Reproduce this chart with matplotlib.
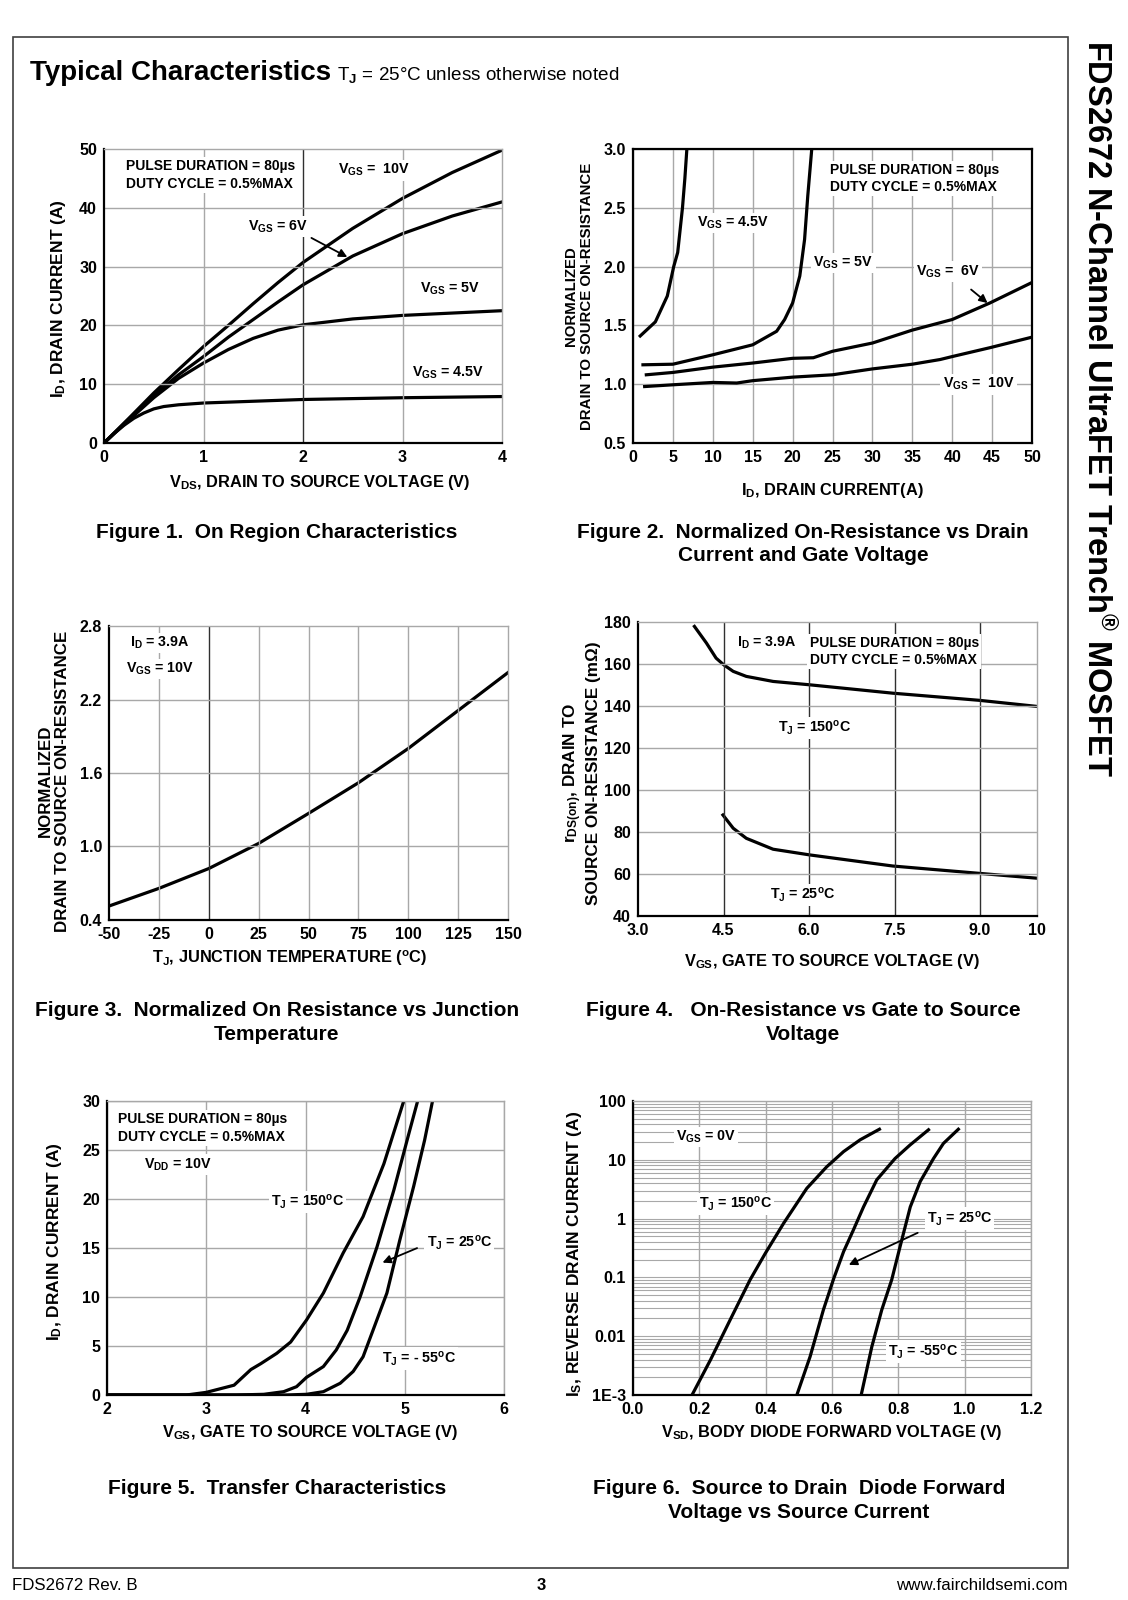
import matplotlib
matplotlib.use("Agg")
import matplotlib.pyplot as plt
from matplotlib.patches import Rectangle
from matplotlib.ticker import LogLocator, NullFormatter
import numpy as np

plt.rcParams['font.family'] = ['Liberation Sans', 'DejaVu Sans']
plt.rcParams['font.weight'] = 'bold'
plt.rcParams['mathtext.fontset'] = 'custom'
plt.rcParams['mathtext.rm'] = 'Liberation Sans'
plt.rcParams['mathtext.it'] = 'Liberation Sans:bold'
plt.rcParams['mathtext.bf'] = 'Liberation Sans:bold'

W, H = 1128, 1600

# ---- Figure 1: on region characteristics
f1_vds = [0, 0.25, 0.5, 0.75, 1.0, 1.25, 1.5, 1.75, 2.0, 2.5, 3.0, 3.5, 4.0]
f1_id_10v = [0, 4.2, 8.5, 12.5, 16.4, 20.0, 23.7, 27.3, 30.7, 36.5, 41.6, 46.0, 49.8]
f1_id_6v = [0, 4.1, 8.1, 11.6, 14.7, 18.0, 21.0, 24.0, 26.9, 31.8, 35.6, 38.6, 41.0]
f1_id_5v = [0, 3.9, 7.7, 11.0, 13.6, 15.9, 17.8, 19.2, 20.1, 21.1, 21.7, 22.1, 22.5]
f1_vds_45 = [0, 0.1, 0.2, 0.3, 0.4, 0.5, 0.6, 0.75, 1.0, 1.5, 2.0, 3.0, 4.0]
f1_id_45v = [0, 1.6, 3.0, 4.2, 5.1, 5.8, 6.2, 6.5, 6.8, 7.1, 7.4, 7.7, 7.9]

# ---- Figure 2: normalized on-resistance vs drain current
f2_id_45 = [0.9, 2.8, 4.3, 5.1, 5.6, 6.2, 6.5, 6.75]
f2_r_45 = [1.41, 1.53, 1.75, 2.0, 2.12, 2.5, 2.75, 3.0]
f2_id_5 = [1.25, 5.0, 10, 15, 18, 19, 20, 20.9, 21.5, 21.9, 22.4]
f2_r_5 = [1.165, 1.17, 1.25, 1.335, 1.45, 1.55, 1.69, 1.92, 2.23, 2.6, 3.0]
f2_id_6 = [1.67, 5, 10, 15, 20, 22.6, 25, 30, 35, 40, 44.7, 50]
f2_r_6 = [1.08, 1.10, 1.145, 1.18, 1.22, 1.225, 1.28, 1.35, 1.46, 1.55, 1.69, 1.865]
f2_id_10 = [1.46, 5, 10, 13, 15, 20, 25, 30, 35, 38.5, 40, 44.7, 50]
f2_r_10 = [0.98, 0.995, 1.015, 1.01, 1.03, 1.06, 1.08, 1.13, 1.17, 1.21, 1.235, 1.31, 1.40]

# ---- Figure 3: normalized on-resistance vs junction temperature
f3_tj = [-50, -25, 0, 25, 50, 75, 100, 125, 150]
f3_r = [0.514, 0.658, 0.82, 1.025, 1.27, 1.52, 1.80, 2.11, 2.42]

# ---- Figure 4: on-resistance vs gate voltage
f4_vgs_150 = [3.99, 4.2, 4.37, 4.5, 4.67, 4.9, 5.37, 6.01, 7.47, 8.99, 10.0]
f4_r_150 = [177.9, 170.0, 162.8, 159.7, 156.5, 154.1, 151.7, 150.1, 146.1, 142.7, 139.8]
f4_vgs_25 = [4.49, 4.67, 4.9, 5.37, 6.01, 7.47, 8.99, 10.0]
f4_r_25 = [88.1, 81.8, 77.0, 71.8, 69.1, 63.8, 60.3, 58.0]

# ---- Figure 5: transfer characteristics
f5_vgs_150 = [2.0, 2.8, 3.0, 3.28, 3.45, 3.55, 3.71, 3.85, 4.01, 4.18, 4.38, 4.58, 4.79, 4.99]
f5_id_150 = [0, 0, 0.27, 1.0, 2.6, 3.2, 4.25, 5.4, 7.65, 10.4, 14.5, 18.2, 23.6, 30]
f5_vgs_25 = [2.0, 3.3, 3.58, 3.78, 3.91, 4.01, 4.18, 4.31, 4.42, 4.55, 4.72, 4.89, 5.05, 5.13]
f5_id_25 = [0, 0, 0.07, 0.34, 0.85, 1.8, 2.9, 4.6, 6.6, 10.0, 15.1, 20.9, 27.0, 30]
f5_vgs_m55 = [2.0, 3.8, 4.01, 4.18, 4.35, 4.48, 4.58, 4.68, 4.82, 4.95, 5.09, 5.2, 5.28]
f5_id_m55 = [0, 0, 0.07, 0.34, 1.2, 2.4, 3.9, 6.6, 10.4, 15.8, 21.3, 26.0, 30]

# ---- Figure 6: body diode forward voltage
f6_vsd_150 = [0.178, 0.233, 0.293, 0.353, 0.399, 0.454, 0.524, 0.584, 0.635, 0.685, 0.743]
f6_is_150 = [1e-3, 3.9e-3, 0.019, 0.091, 0.257, 0.83, 3.27, 7.6, 13.8, 21.9, 33.1]
f6_vsd_25 = [0.494, 0.534, 0.574, 0.605, 0.635, 0.665, 0.695, 0.735, 0.79, 0.835, 0.891]
f6_is_25 = [1e-3, 4.5e-3, 0.028, 0.095, 0.275, 0.65, 1.58, 4.57, 10.5, 17.8, 32.4]
f6_vsd_m55 = [0.688, 0.72, 0.75, 0.78, 0.805, 0.836, 0.866, 0.906, 0.936, 0.981]
f6_is_m55 = [1e-3, 6.6e-3, 0.028, 0.091, 0.33, 1.58, 4.27, 10.5, 19.0, 33.1]

LW = 2.3
GRID = '#a8a8a8'
DARK = '#303030'
TICK = 11.5
XLAB = 11.8
YLAB = 12.5
NOTE = 10.3
CAP = 15

fig = plt.figure(figsize=(W / 100, H / 100), dpi=100)


def px(x, y):
    return x / W, 1 - y / H


def make_ax(l, t, r, b):
    ax = fig.add_axes([l / W, 1 - b / H, (r - l) / W, (b - t) / H])
    ax.tick_params(length=0, labelsize=TICK, pad=5)
    ax.set_axisbelow(True)
    return ax


def frame(ax, dark_lb=True, all_black=False):
    for side in ['left', 'bottom', 'top', 'right']:
        sp = ax.spines[side]
        if all_black or (dark_lb and side in ('left', 'bottom')):
            sp.set_color('black')
            sp.set_linewidth(1.6)
        else:
            sp.set_color(GRID)
            sp.set_linewidth(1.0)


def label(ax, x, y, s, size=NOTE, ha='left'):
    ax.text(x, y, s, fontsize=size, fontweight='bold', ha=ha, va='center',
            bbox=dict(facecolor='white', edgecolor='none', pad=1.5), zorder=5)


def pulse(ax, x, y):
    ax.text(x, y, 'PULSE DURATION = 80\u00b5s\nDUTY CYCLE = 0.5%MAX', fontsize=10,
            fontweight='bold', va='center', linespacing=1.3,
            bbox=dict(facecolor='white', edgecolor='none', pad=1.5), zorder=5)


def figtext(x, y, s, size=XLAB, rot=0, ha='center', weight='bold', va='center'):
    fig.text(*px(x, y), s, fontsize=size, rotation=rot, ha=ha, va=va, fontweight=weight)


def caption(x, y, lines):
    for i, s in enumerate(lines):
        figtext(x, y + i * 23.5, s, size=CAP)


def arrow(ax, xy_from, xy_to):
    ax.annotate('', xy=xy_to, xytext=xy_from,
                arrowprops=dict(arrowstyle='-|>', color='black', lw=1.3,
                                mutation_scale=12), zorder=6)


VGS = r'V$_{\mathbf{GS}}$'
TJ = r'T$_{\mathbf{J}}$'
DEG = r'$^{\mathbf{o}}$C'

# ---------------- Figure 1
ax = make_ax(104, 149, 502, 443)
ax.plot(f1_vds, f1_id_10v, 'k-', lw=LW)
ax.plot(f1_vds, f1_id_6v, 'k-', lw=LW)
ax.plot(f1_vds, f1_id_5v, 'k-', lw=LW)
ax.plot(f1_vds_45, f1_id_45v, 'k-', lw=LW)
ax.set_xlim(0, 4)
ax.set_ylim(0, 50)
ax.set_xticks([0, 1, 2, 3, 4])
ax.set_yticks([0, 10, 20, 30, 40, 50])
for v in [1, 3]:
    ax.axvline(v, color=GRID, lw=1)
ax.axvline(2, color=DARK, lw=1)
for v in [10, 20, 30, 40]:
    ax.axhline(v, color=GRID, lw=1)
frame(ax)
pulse(ax, 0.22, 45.6)
label(ax, 2.35, 46.4, VGS + ' =  10V')
label(ax, 1.45, 36.8, VGS + ' = 6V')
arrow(ax, (2.06, 35.1), (2.47, 31.4))
label(ax, 3.18, 26.3, VGS + ' = 5V')
label(ax, 3.1, 11.9, VGS + ' = 4.5V')
figtext(58, 299, r'I$_{\mathbf{D}}$, DRAIN CURRENT (A)', rot=90, size=YLAB)
figtext(320, 483, r'V$_{\mathbf{DS}}$, DRAIN TO SOURCE VOLTAGE (V)')
caption(277, 532, ['Figure 1.  On Region Characteristics'])

# ---------------- Figure 2
ax = make_ax(633, 149, 1032, 443)
ax.plot(f2_id_45, f2_r_45, 'k-', lw=LW)
ax.plot(f2_id_5, f2_r_5, 'k-', lw=LW)
ax.plot(f2_id_6, f2_r_6, 'k-', lw=LW)
ax.plot(f2_id_10, f2_r_10, 'k-', lw=LW)
ax.set_xlim(0, 50)
ax.set_ylim(0.5, 3.0)
ax.set_xticks(np.arange(0, 51, 5))
ax.set_yticks([0.5, 1.0, 1.5, 2.0, 2.5, 3.0])
ax.set_yticklabels(['0.5', '1.0', '1.5', '2.0', '2.5', '3.0'])
ax.grid(True, color=GRID, lw=1)
frame(ax, all_black=True)
pulse(ax, 24.7, 2.75)
label(ax, 8.07, 2.37, VGS + ' = 4.5V')
label(ax, 22.6, 2.03, VGS + ' = 5V')
label(ax, 35.5, 1.96, VGS + ' =  6V')
arrow(ax, (42.1, 1.82), (44.7, 1.675))
label(ax, 38.8, 1.0, VGS + ' =  10V')
figtext(579, 296, 'NORMALIZED\nDRAIN TO SOURCE ON-RESISTANCE', size=10.8, rot=90)
figtext(832, 491, r'I$_{\mathbf{D}}$, DRAIN CURRENT(A)')
caption(803, 532, ['Figure 2.  Normalized On-Resistance vs Drain',
                   'Current and Gate Voltage'])

# ---------------- Figure 3
ax = make_ax(109, 626, 508, 920)
ax.plot(f3_tj, f3_r, 'k-', lw=LW)
ax.set_xlim(-50, 150)
ax.set_ylim(0.4, 2.8)
ax.set_xticks(np.arange(-50, 151, 25))
ax.set_xticklabels([str(v) for v in range(-50, 151, 25)])
ax.set_yticks([0.4, 1.0, 1.6, 2.2, 2.8])
ax.set_yticklabels(['0.4', '1.0', '1.6', '2.2', '2.8'])
for v in [-25, 25, 50, 75, 100, 125]:
    ax.axvline(v, color=GRID, lw=1)
ax.axvline(0, color=DARK, lw=1)
for v in [1.0, 1.6, 2.2]:
    ax.axhline(v, color=GRID, lw=1)
frame(ax)
label(ax, -39.6, 2.66, r'I$_{\mathbf{D}}$ = 3.9A')
label(ax, -41.3, 2.45, VGS + ' = 10V')
figtext(54, 781, 'NORMALIZED\nDRAIN TO SOURCE ON-RESISTANCE', size=12.2, rot=90)
figtext(290, 958, r'T$_{\mathbf{J}}$, JUNCTION TEMPERATURE (' + DEG + ')')
caption(277, 1011, ['Figure 3.  Normalized On Resistance vs Junction',
                    'Temperature'])

# ---------------- Figure 4
ax = make_ax(638, 622, 1037, 916)
ax.plot(f4_vgs_150, f4_r_150, 'k-', lw=LW)
ax.plot(f4_vgs_25, f4_r_25, 'k-', lw=LW)
ax.set_xlim(3, 10)
ax.set_ylim(40, 180)
ax.set_xticks([3.0, 4.5, 6.0, 7.5, 9.0, 10])
ax.set_xticklabels(['3.0', '4.5', '6.0', '7.5', '9.0', '10'])
ax.set_yticks(np.arange(40, 181, 20))
for v in [4.5, 6.0, 7.5, 9.0]:
    ax.axvline(v, color=DARK, lw=1)
for v in range(60, 180, 20):
    ax.axhline(v, color=GRID, lw=1)
frame(ax)
label(ax, 4.73, 170, r'I$_{\mathbf{D}}$ = 3.9A')
pulse(ax, 6.01, 166)
label(ax, 5.46, 129.5, TJ + ' = 150' + DEG)
label(ax, 5.32, 50, TJ + ' = 25' + DEG)
figtext(581, 773, r'r$_{\mathbf{DS(on)}}$, DRAIN TO' + '\nSOURCE ON-RESISTANCE (m\u03a9)',
        rot=90, size=12.3)
figtext(832, 962, r'V$_{\mathbf{GS}}$, GATE TO SOURCE VOLTAGE (V)')
caption(803, 1011, ['Figure 4.   On-Resistance vs Gate to Source', 'Voltage'])

# ---------------- Figure 5
ax = make_ax(107, 1101, 504, 1395)
ax.plot(f5_vgs_150, f5_id_150, 'k-', lw=LW)
ax.plot(f5_vgs_25, f5_id_25, 'k-', lw=LW)
ax.plot(f5_vgs_m55, f5_id_m55, 'k-', lw=LW)
ax.set_xlim(2, 6)
ax.set_ylim(0, 30)
ax.set_xticks([2, 3, 4, 5, 6])
ax.set_yticks(np.arange(0, 31, 5))
ax.grid(True, color=GRID, lw=1)
frame(ax)
pulse(ax, 2.11, 27.25)
label(ax, 2.37, 23.5, r'V$_{\mathbf{DD}}$ = 10V')
label(ax, 3.65, 19.7, TJ + ' = 150' + DEG)
label(ax, 5.22, 15.5, TJ + ' = 25' + DEG)
arrow(ax, (5.15, 15.1), (4.75, 13.4))
label(ax, 4.77, 3.7, TJ + ' = - 55' + DEG)
figtext(55, 1242, r'I$_{\mathbf{D}}$, DRAIN CURRENT (A)', rot=90, size=YLAB)
figtext(310, 1432, r'V$_{\mathbf{GS}}$, GATE TO SOURCE VOLTAGE (V)')
caption(277, 1489, ['Figure 5.  Transfer Characteristics'])

# ---------------- Figure 6
ax = make_ax(633, 1101, 1031, 1395)
ax.plot(f6_vsd_150, f6_is_150, 'k-', lw=LW)
ax.plot(f6_vsd_25, f6_is_25, 'k-', lw=LW)
ax.plot(f6_vsd_m55, f6_is_m55, 'k-', lw=LW)
ax.set_yscale('log')
ax.set_xlim(0, 1.2)
ax.set_ylim(1e-3, 100)
ax.set_xticks([0, 0.2, 0.4, 0.6, 0.8, 1.0, 1.2])
ax.set_xticklabels(['0.0', '0.2', '0.4', '0.6', '0.8', '1.0', '1.2'])
ax.set_yticks([1e-3, 1e-2, 1e-1, 1, 10, 100])
ax.set_yticklabels(['1E-3', '0.01', '0.1', '1', '10', '100'])
ax.yaxis.set_minor_locator(LogLocator(base=10, subs=np.arange(2, 10), numticks=20))
ax.yaxis.set_minor_formatter(NullFormatter())
ax.tick_params(which='minor', length=0)
ax.grid(True, which='both', axis='y', color=GRID, lw=0.8)
ax.grid(True, which='major', axis='x', color=GRID, lw=1)
frame(ax)
label(ax, 0.13, 24.5, VGS + ' = 0V')
label(ax, 0.198, 1.77, TJ + ' = 150' + DEG)
label(ax, 0.886, 1.0, TJ + ' = 25' + DEG)
arrow(ax, (0.866, 0.60), (0.643, 0.156))
label(ax, 0.77, 0.00546, TJ + ' = -55' + DEG)
figtext(575, 1254, r'I$_{\mathbf{S}}$, REVERSE DRAIN CURRENT (A)', rot=90, size=YLAB)
figtext(832, 1433, r'V$_{\mathbf{SD}}$, BODY DIODE FORWARD VOLTAGE (V)')
caption(799, 1489, ['Figure 6.  Source to Drain  Diode Forward',
                    'Voltage vs Source Current'])

# ---------------- page decorations
fig.patches.append(Rectangle(px(13, 1568), (1068 - 13) / W, (1568 - 37) / H,
                             transform=fig.transFigure, fill=False,
                             edgecolor='#404040', lw=1.2))
figtext(30, 73, 'Typical Characteristics', size=20, ha='left')
figtext(337, 75, r'T$_{\mathrm{J}}$ = 25' + '\u00b0C unless otherwise noted', size=13.6,
        ha='left', weight='normal')
figtext(1097, 408, r'FDS2672 N-Channel UltraFET Trench$^{\mathbf{' + '\u00ae' + '}}$ MOSFET',
        size=23.5, rot=-90)
figtext(12, 1585, 'FDS2672 Rev. B', size=12.2, ha='left', weight='normal')
figtext(541, 1585, '3', size=12)
figtext(1068, 1585, 'www.fairchildsemi.com', size=12.2, ha='right', weight='normal')

fig.savefig('out.png', dpi=100)
